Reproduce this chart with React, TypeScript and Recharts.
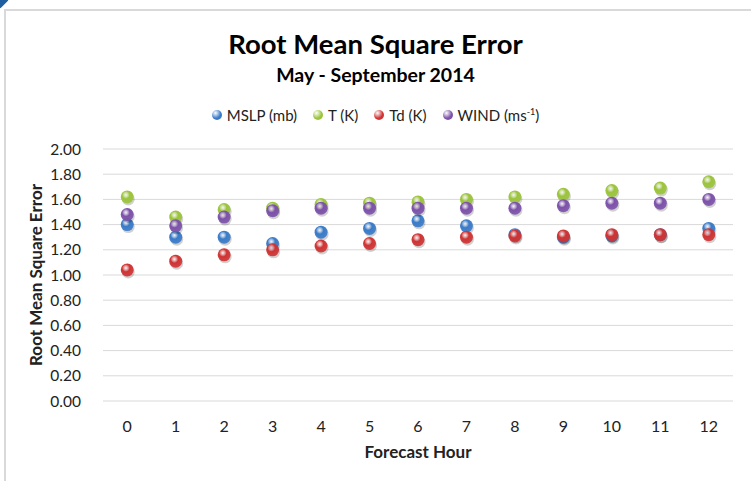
import { ScatterChart, Scatter, XAxis, YAxis, CartesianGrid } from 'recharts';

const hours = [0, 1, 2, 3, 4, 5, 6, 7, 8, 9, 10, 11, 12];
const mslp = [1.40, 1.30, 1.30, 1.25, 1.34, 1.37, 1.43, 1.39, 1.32, 1.30, 1.31, 1.32, 1.37];
const temp = [1.62, 1.46, 1.52, 1.53, 1.56, 1.57, 1.58, 1.60, 1.62, 1.64, 1.67, 1.69, 1.74];
const dew = [1.04, 1.11, 1.16, 1.20, 1.23, 1.25, 1.28, 1.30, 1.31, 1.31, 1.32, 1.32, 1.32];
const wind = [1.48, 1.39, 1.46, 1.51, 1.53, 1.53, 1.53, 1.53, 1.53, 1.55, 1.57, 1.57, 1.60];
const yTicks = [0, 0.2, 0.4, 0.6, 0.8, 1.0, 1.2, 1.4, 1.6, 1.8, 2.0];

const toPoints = (vals: number[]) => hours.map((h, i) => ({ hour: h, value: vals[i] }));

const series = [
  { name: 'MSLP (mb)', key: 'blue', color: '#3a7bc8', data: toPoints(mslp) },
  { name: 'T (K)', key: 'green', color: '#9bc43c', data: toPoints(temp) },
  { name: 'Td (K)', key: 'red', color: '#cf3434', data: toPoints(dew) },
  { name: 'WIND', key: 'purple', color: '#7d52aa', data: toPoints(wind) },
];

const font = 'Lato, "Open Sans", sans-serif';

const Ball = (props: any) => {
  const { cx, cy, id } = props;
  if (cx == null || cy == null) return null;
  return (
    <g>
      <circle cx={cx + 1} cy={cy + 2} r={6.5} fill="rgba(0,0,0,0.18)" />
      <circle cx={cx} cy={cy} r={6.5} fill={`url(#grad-${id})`} />
    </g>
  );
};

export default function App() {
  return (
    <div style={{ position: 'absolute', left: 0, top: 0, width: 751, height: 481, background: '#fff', overflow: 'hidden' }}>
      <div style={{ position: 'absolute', left: 4, top: 9, width: 760, height: 490, border: '2px solid #d9d9d9' }} />
      <div style={{ position: 'absolute', left: -5, top: -5, width: 11, height: 11, background: '#1f5fa0', transform: 'rotate(45deg)' }} />
      <div style={{ position: 'absolute', top: 27, width: 751, textAlign: 'center', fontFamily: font, fontWeight: 700, fontSize: 27.5, color: '#000' }}>
        Root Mean Square Error
      </div>
      <div style={{ position: 'absolute', top: 63, width: 751, textAlign: 'center', fontFamily: font, fontWeight: 700, fontSize: 19.5, color: '#000' }}>
        May - September 2014
      </div>
      <div style={{ position: 'absolute', top: 106, left: 0, width: 751, display: 'flex', justifyContent: 'center', gap: 16, fontFamily: font, fontSize: 15, color: '#222' }}>
        {series.map((s) => (
          <span key={s.key} style={{ display: 'flex', alignItems: 'center', gap: 5 }}>
            <span style={{ width: 10, height: 10, borderRadius: '50%', background: `radial-gradient(circle at 35% 30%, #fff8, ${s.color} 55%)`, display: 'inline-block' }} />
            {s.key === 'purple' ? <span>WIND (ms<sup style={{ fontSize: 9 }}>-1</sup>)</span> : s.name}
          </span>
        ))}
      </div>
      <ScatterChart width={751} height={481} margin={{ top: 149, right: 18, left: 10, bottom: 20 }} style={{ position: 'absolute', left: 0, top: 0 }}>
        <defs>
          {series.map((s) => (
            <radialGradient key={s.key} id={`grad-${s.key}`} cx="40%" cy="35%" r="65%">
              <stop offset="0%" stopColor="#ffffff" stopOpacity={0.75} />
              <stop offset="45%" stopColor={s.color} />
              <stop offset="100%" stopColor={s.color} stopOpacity={0.9} />
            </radialGradient>
          ))}
        </defs>
        <CartesianGrid vertical={false} stroke="#d9d9d9" />
        <XAxis
          type="number"
          dataKey="hour"
          domain={[-0.5, 12.5]}
          ticks={hours}
          axisLine={false}
          tickLine={false}
          tick={{ fontSize: 16, fill: '#222', fontFamily: font }}
          tickMargin={14}
          height={60}
          label={{ value: 'Forecast Hour', position: 'insideBottom', offset: 3, style: { fontSize: 17, fontWeight: 700, fill: '#222', fontFamily: font } }}
        />
        <YAxis
          type="number"
          dataKey="value"
          domain={[0, 2]}
          ticks={yTicks}
          tickFormatter={(v: number) => v.toFixed(2)}
          axisLine={false}
          tickLine={false}
          tick={{ fontSize: 15.5, fill: '#222', fontFamily: font }}
          tickMargin={16}
          width={93}
          label={{ value: 'Root Mean Square Error', angle: -90, position: 'insideLeft', offset: 26, style: { textAnchor: 'middle', fontSize: 17, fontWeight: 700, fill: '#222', fontFamily: font } }}
        />
        {series.map((s) => (
          <Scatter key={s.key} name={s.name} data={s.data} fill={s.color} isAnimationActive={false} shape={(p: any) => <Ball {...p} id={s.key} />} />
        ))}
      </ScatterChart>
    </div>
  );
}
